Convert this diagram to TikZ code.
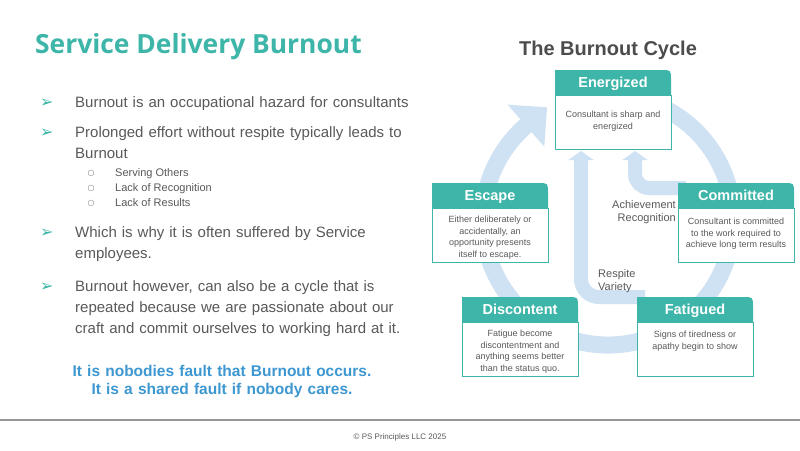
\documentclass[tikz,border=0pt]{standalone}
\usepackage{fontspec}
\setmainfont{Liberation Sans}
\newfontfamily\titlefont{Open Sans}
\newfontfamily\symfont{DejaVu Sans}
\usetikzlibrary{positioning, arrows.meta}

\definecolor{tealhead}{RGB}{61,181,168}
\definecolor{ringblue}{RGB}{207,226,243}
\definecolor{textgray}{RGB}{89,89,89}
\definecolor{quoteblue}{RGB}{61,151,208}
\definecolor{rulegray}{RGB}{150,150,150}

\pgfdeclarelayer{background}
\pgfsetlayers{background,main}

\tikzset{
    stagehead/.style={text=white, inner sep=0pt, outer sep=0pt, minimum width=116pt,
        minimum height=25pt, text height=10.5pt, text depth=0pt,
        font=\bfseries\fontsize{14.5}{16}\selectfont},
    stagebody/.style={draw=tealhead, line width=0.8pt, fill=white, anchor=north west,
        inner sep=3pt, outer sep=0pt, text=textgray},
    ringline/.style={draw=ringblue, line width=17pt},
    innerline/.style={draw=ringblue, line width=14pt},
    cyclelabel/.style={inner sep=0pt, text=textgray, font=\fontsize{11}{13}\selectfont},
    point/.style={anchor=base west, inner sep=0pt, text=textgray, text width=350pt,
        align=left, font=\fontsize{15}{21}\selectfont},
    subpoint/.style={anchor=base west, inner sep=0pt, text=textgray, font=\fontsize{11}{13}\selectfont},
    arrowmark/.style={anchor=base west, inner sep=0pt, text=tealhead, font=\symfont\fontsize{16}{16}\selectfont},
    submark/.style={anchor=base, inner sep=0pt, text=textgray!80, font=\symfont\fontsize{8}{8}\selectfont}
}

% kasten: name, x, y (oben links), titel, text
\newcommand{\stagebox}[5]{%
    \fill[tealhead] (#2,#3+25) -- (#2,#3) -- (#2+106,#3) .. controls (#2+116,#3) .. (#2+116,#3+10)
        -- (#2+116,#3+25) -- cycle;
    \node[stagehead] (#1-h) at (#2+58,#3+12.5) {#4};
    \node[stagebody] (#1) at (#2,#3+25)
        {\parbox[c][48pt][t]{110pt}{\vspace*{5pt}\centering\fontsize{9}{11.5}\selectfont #5}};
}

\begin{document}
\begin{tikzpicture}[x=1pt, y=-1pt]
    \useasboundingbox (0,0) rectangle (800,450);

    % Titel links
    \node[anchor=base west, inner sep=0pt, text=tealhead,
        font=\titlefont\bfseries\fontsize{26.4}{30}\selectfont] (title) at (35,53) {Service Delivery Burnout};

    % Punkte
    \node[arrowmark] (m1) at (40,107) {➢};
    \node[point] (p1) at (75,107) {Burnout is an occupational hazard for consultants};
    \node[arrowmark] (m2) at (40,137) {➢};
    \node[point] (p2) at (75,137) {Prolonged effort without respite typically leads to\\Burnout};
    \foreach \s [count=\i] in {Serving Others, Lack of Recognition, Lack of Results} {
        \node[submark] (c\i) at (91,{175+15.3*(\i-1)}) {○};
        \node[subpoint] (s\i) at (115,{176+15.3*(\i-1)}) {\s};
    }
    \node[arrowmark] (m3) at (40,237) {➢};
    \node[point] (p3) at (75,237) {Which is why it is often suffered by Service\\employees.};
    \node[arrowmark] (m4) at (40,291) {➢};
    \node[point] (p4) at (75,291) {Burnout however, can also be a cycle that is\\repeated because we are passionate about our\\craft and commit ourselves to working hard at it.};

    \node[anchor=base, inner sep=0pt, text=quoteblue, text width=340pt, align=center,
        font=\bfseries\fontsize{15.5}{18}\selectfont] (quote) at (222,376)
        {It is nobodies fault that Burnout occurs.\\It is a shared fault if nobody cares.};

    % Zyklus
    \node[anchor=base, inner sep=0pt, text=black!70, font=\bfseries\fontsize{20}{24}\selectfont]
        (cycle) at (608,55) {The Burnout Cycle};

    \stagebox{energized}{555}{70}{Energized}{\vspace*{8pt}Consultant is sharp and\\energized}
    \stagebox{escape}{432}{183}{Escape}{Either deliberately or\\accidentally, an\\opportunity presents\\itself to escape.}
    \stagebox{committed}{678}{183}{Committed}{\vspace*{2pt}Consultant is committed\\to the work required to\\achieve long term results}
    \stagebox{discontent}{462}{297}{Discontent}{Fatigue become\\discontentment and\\anything seems better\\than the status quo.}
    \stagebox{fatigued}{637}{297}{Fatigued}{\vspace*{1pt}Signs of tiredness or\\apathy begin to show}

    \begin{pgfonlayer}{background}
        \fill[white] (0,0) rectangle (800,450);
        \draw[ringline, -{Triangle[length=28pt, width=54pt]}]
            (608,220) ++(-70:125) arc[start angle=-70, end angle=229, radius=125] -- ++(21.1,-18.4);
        \draw[innerline, rounded corners=18pt, -{Triangle[length=9pt, width=25pt]}]
            ([xshift=8pt]fatigued-h.north west) -| ([xshift=26pt, yshift=-2pt]energized.south west);
        \draw[innerline, rounded corners=14pt, -{Triangle[length=9pt, width=25pt]}]
            ([xshift=8pt, yshift=-5pt]committed-h.north west) -| ([xshift=80pt, yshift=-2pt]energized.south west);
    \end{pgfonlayer}

    \node[cyclelabel, text width=80pt, align=right, anchor=base east] (gain) at (676,208) {Achievement\\Recognition};
    \node[cyclelabel, text width=50pt, align=left, anchor=base west] (rest) at (598,277) {Respite\\Variety};

    % Fusszeile
    \coordinate (rule-l) at (0,420);
    \coordinate (rule-r) at (800,420);
    \draw[rulegray, line width=1.5pt] (rule-l) -- (rule-r);
    \node[anchor=base, inner sep=0pt, text=textgray, font=\fontsize{8}{10}\selectfont] (copy) at (400,439)
        {© PS Principles LLC 2025};
\end{tikzpicture}
\end{document}
